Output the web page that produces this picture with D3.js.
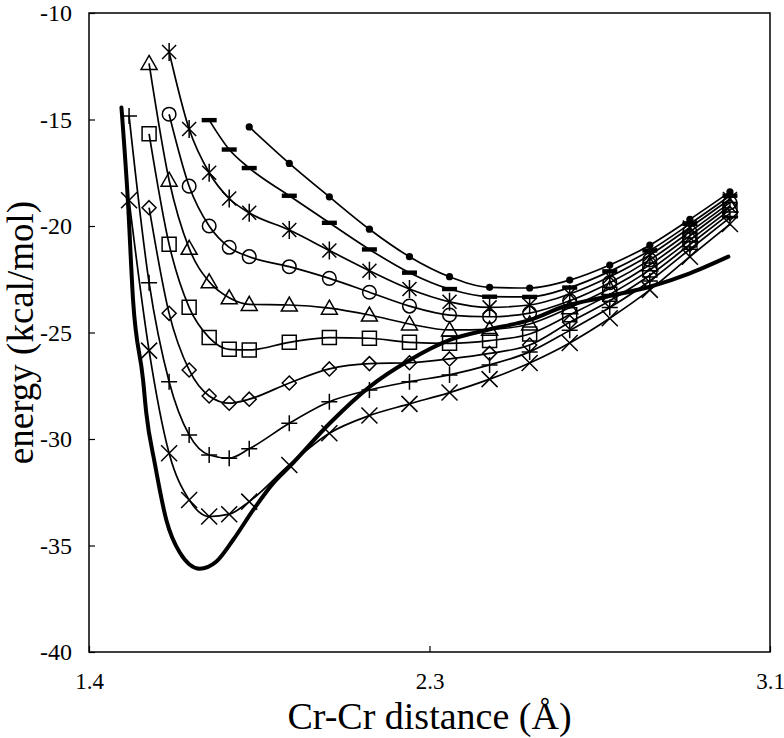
<!DOCTYPE html>
<html>
<head>
<meta charset="utf-8">
<script src="https://cdn.jsdelivr.net/npm/d3@7"></script>
<style>
  body { margin: 0; background: #fff; }
  #chart text { font-family: "Liberation Serif", "DejaVu Serif", serif; fill: #000; }
</style>
</head>
<body>
<div id="chart"></div>
<script>
// Cr-Cr distance grid (Å)
const distances = [1.5, 1.55, 1.6, 1.65, 1.7, 1.75, 1.8, 1.9, 2.0, 2.1, 2.2, 2.3, 2.4, 2.5, 2.6, 2.7, 2.8, 2.9, 3.0];

// energies (kcal/mol), null where the curve has no point
const dotE = [null, null, null, null, null, null, -15.35, -17.06, -18.63, -20.15, -21.44, -22.38, -22.88, -22.91, -22.54, -21.83, -20.90, -19.69, -18.40];
const dashE = [null, null, null, null, -15.03, -16.41, -17.28, -18.58, -19.85, -21.10, -22.19, -22.96, -23.32, -23.33, -22.89, -22.13, -21.15, -19.90, -18.58];
const asteriskE = [null, null, -11.83, -15.45, -17.50, -18.71, -19.38, -20.19, -21.15, -22.10, -22.96, -23.56, -23.82, -23.71, -23.19, -22.38, -21.36, -20.07, -18.73];
const circleE = [null, null, -14.75, -18.13, -20.00, -21.00, -21.44, -21.91, -22.46, -23.11, -23.76, -24.18, -24.26, -24.09, -23.51, -22.66, -21.59, -20.27, -18.90];
const triangleE = [null, -12.37, -17.85, -21.05, -22.62, -23.37, -23.68, -23.71, -23.86, -24.18, -24.60, -24.88, -24.85, -24.60, -23.84, -22.94, -21.82, -20.46, -19.06];
const squareE = [null, -15.67, -20.86, -23.82, -25.24, -25.79, -25.82, -25.46, -25.24, -25.27, -25.46, -25.51, -25.38, -25.07, -24.17, -23.21, -22.06, -20.66, -19.23];
const diamondE = [null, -19.14, -24.10, -26.76, -27.98, -28.32, -28.13, -27.37, -26.71, -26.46, -26.42, -26.24, -25.98, -25.59, -24.52, -23.51, -22.31, -20.87, -19.41];
const plusE = [-14.83, -22.66, -27.31, -29.81, -30.75, -30.90, -30.46, -29.26, -28.25, -27.70, -27.31, -26.99, -26.52, -25.91, -24.90, -23.83, -22.58, -21.09, -19.61];
const crossE = [-18.79, -25.85, -30.67, -32.86, -33.64, -33.53, -32.94, -31.22, -29.73, -28.90, -28.35, -27.82, -27.19, -26.43, -25.49, -24.33, -23.00, -21.44, -19.91];

// thick reference curve
const thickX = [1.481, 1.497, 1.510, 1.535, 1.543, 1.564, 1.593, 1.627, 1.676, 1.718, 1.760, 1.810, 1.860, 1.901, 2.001, 2.101, 2.201, 2.301, 2.393, 2.501, 2.584, 2.692, 2.800, 2.900, 2.996];
const thickE = [-14.44, -18.79, -23.48, -27.23, -28.78, -31.12, -33.80, -35.34, -36.09, -35.75, -34.73, -33.33, -32.07, -31.29, -29.26, -27.54, -26.29, -25.35, -24.88, -24.41, -23.79, -23.32, -22.85, -22.22, -21.44];

const xTicks = [1.4, 2.25, 3.1];
const yTicks = [-10, -15, -20, -25, -30, -35, -40];

const series = [
  {name: "dot", values: dotE},
  {name: "dash", values: dashE},
  {name: "asterisk", values: asteriskE},
  {name: "circle", values: circleE},
  {name: "triangle", values: triangleE},
  {name: "square", values: squareE},
  {name: "diamond", values: diamondE},
  {name: "plus", values: plusE},
  {name: "cross", values: crossE}
];

function markerPath(kind) {
  switch (kind) {
    case "triangle": return "M0,-8L8,6L-8,6Z";
    case "square": return "M-7,-7H7V7H-7Z";
    case "diamond": return "M0,-7L7,0L0,7L-7,0Z";
    case "plus": return "M-8,0H8M0,-8V8";
    case "cross": return "M-8,-8L8,8M-8,8L8,-8";
    case "asterisk": return "M0,-9V9M-7,-7L7,7M-7,7L7,-7";
  }
  return "";
}

function drawChart() {
  var margin = {top: 13, right: 14, bottom: 86, left: 89},
      width = 784 - margin.left - margin.right,
      height = 738 - margin.top - margin.bottom;

  var x = d3.scaleLinear().domain([1.4, 3.1]).range([0, width]);
  var y = d3.scaleLinear().domain([-40, -10]).range([height, 0]);

  var svg = d3.select("#chart").append("svg")
      .attr("width", width + margin.left + margin.right)
      .attr("height", height + margin.top + margin.bottom)
    .append("g")
      .attr("transform", "translate(" + margin.left + "," + margin.top + ")");

  // frame
  svg.append("rect")
    .attr("width", width)
    .attr("height", height)
    .attr("fill", "none")
    .attr("stroke", "#000")
    .attr("stroke-width", 1.5);

  // plain hyphen for negatives, like the original
  var xAxis = d3.axisBottom(x).tickValues(xTicks).tickSize(-6).tickPadding(21)
    .tickFormat(d => d.toFixed(1));
  var yAxis = d3.axisLeft(y).tickValues(yTicks).tickSize(-6).tickPadding(17)
    .tickFormat(d => String(d));

  svg.append("g")
    .attr("class", "xAxis")
    .attr("transform", "translate(0," + height + ")")
    .call(xAxis)
    .call(g => g.select(".domain").remove())
    .call(g => g.selectAll("text").style("font-size", "23px").attr("dy", "0.71em"));

  svg.append("g")
    .attr("class", "yAxis")
    .call(yAxis)
    .call(g => g.select(".domain").remove())
    .call(g => g.selectAll("text").style("font-size", "24px"));

  svg.selectAll(".tick line").attr("stroke", "#000").attr("stroke-width", 1.2);

  svg.append("text")
    .attr("x", width / 2)
    .attr("y", height + 77)
    .style("text-anchor", "middle")
    .style("font-size", "38px")
    .text("Cr-Cr distance (Å)");

  svg.append("text")
    .attr("transform", "rotate(-90)")
    .attr("x", -height / 2)
    .attr("y", -margin.left + 33)
    .style("text-anchor", "middle")
    .style("font-size", "37px")
    .text("energy (kcal/mol)");

  var line = d3.line()
    .defined(d => d[1] !== null)
    .x(d => x(d[0]))
    .y(d => y(d[1]))
    .curve(d3.curveMonotoneX);

  series.forEach(function(s) {
    var pts = distances.map((d, i) => [d, s.values[i]]).filter(p => p[1] !== null);
    var g = svg.append("g").attr("class", "series-" + s.name);

    g.append("path")
      .datum(pts)
      .attr("d", line)
      .attr("fill", "none")
      .attr("stroke", "#000")
      .attr("stroke-width", 1.7);

    var m = g.selectAll(".mark")
      .data(pts)
      .enter()
      .append("g")
      .attr("transform", d => "translate(" + x(d[0]) + "," + y(d[1]) + ")");

    if (s.name === "dot") {
      m.append("circle").attr("r", 3.6).attr("fill", "#000");
    } else if (s.name === "circle") {
      m.append("circle").attr("r", 6.8)
        .attr("fill", "none").attr("stroke", "#000").attr("stroke-width", 1.5);
    } else if (s.name === "dash") {
      m.append("rect").attr("x", -7.5).attr("y", -2.2).attr("width", 15).attr("height", 4.4)
        .attr("fill", "#000");
    } else {
      m.append("path").attr("d", markerPath(s.name))
        .attr("fill", "none").attr("stroke", "#000").attr("stroke-width", 1.5);
    }
  });

  var thickPts = thickX.map((d, i) => [d, thickE[i]]);
  svg.append("path")
    .datum(thickPts)
    .attr("d", line)
    .attr("fill", "none")
    .attr("stroke", "#000")
    .attr("stroke-width", 4)
    .attr("stroke-linecap", "round");
}

drawChart();
</script>
</body>
</html>
